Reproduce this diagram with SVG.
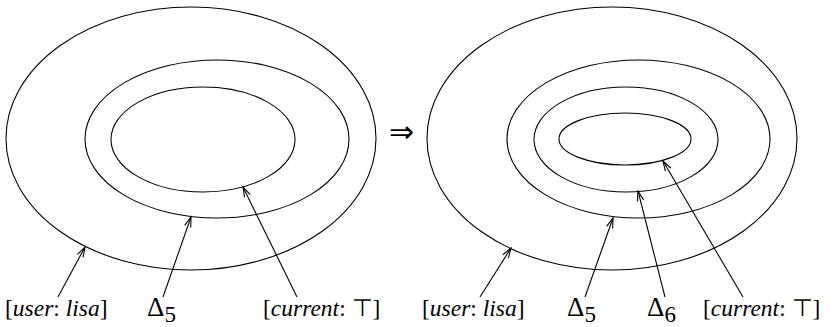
<svg xmlns="http://www.w3.org/2000/svg" width="835" height="327" viewBox="0 0 835 327">
<defs>
<marker id="ah" markerWidth="14" markerHeight="10" viewBox="-12 -5 14 10" refX="0" refY="0" orient="auto" markerUnits="userSpaceOnUse">
<path d="M-10,-3.2 L0,0 L-10,3.2" fill="none" stroke="#000" stroke-width="1.1"/>
</marker>
</defs>
<rect width="835" height="327" fill="#fff"/>
<g fill="none" stroke="#000" stroke-width="1.1">
<g id="left-user"><ellipse cx="191" cy="138.5" rx="185" ry="131.5"/></g>
<g id="left-delta5"><ellipse cx="217" cy="139" rx="132" ry="79"/></g>
<g id="left-current"><ellipse cx="203" cy="139.5" rx="92" ry="52.5"/></g>
<g id="right-user"><ellipse cx="612" cy="138.5" rx="185" ry="131.5"/></g>
<g id="right-delta5"><ellipse cx="638.5" cy="139" rx="131.5" ry="79"/></g>
<g id="right-delta6"><ellipse cx="626" cy="139.5" rx="92" ry="52.5"/></g>
<g id="right-current"><ellipse cx="625" cy="139" rx="66" ry="26"/></g>
</g>
<g id="connectors" fill="none" stroke="#000" stroke-width="1.1">
<line x1="58" y1="297" x2="85" y2="247" marker-end="url(#ah)"/>
<line x1="163" y1="297" x2="191" y2="217" marker-end="url(#ah)"/>
<line x1="297" y1="297" x2="243" y2="187" marker-end="url(#ah)"/>
<line x1="480" y1="297" x2="511" y2="248" marker-end="url(#ah)"/>
<line x1="585" y1="297" x2="613" y2="218" marker-end="url(#ah)"/>
<line x1="665" y1="297" x2="638" y2="191" marker-end="url(#ah)"/>
<line x1="743" y1="297" x2="663" y2="161" marker-end="url(#ah)"/>
</g>
<g id="labels" fill="#000">
<text x="389" y="142" font-family="'Liberation Serif', serif" font-size="30">⇒</text>
<text x="5" y="316" font-family="'Liberation Serif', serif" font-size="23.5">[<tspan font-style="italic">user</tspan>: <tspan font-style="italic">lisa</tspan>]</text>
<text x="147" y="316" font-family="'Liberation Serif', serif" font-size="27">Δ<tspan font-size="23" dy="6">5</tspan></text>
<text x="263" y="316" font-family="'Liberation Serif', serif" font-size="23.5">[<tspan font-style="italic">current</tspan>: ⊤]</text>
<text x="422" y="316" font-family="'Liberation Serif', serif" font-size="23.5">[<tspan font-style="italic">user</tspan>: <tspan font-style="italic">lisa</tspan>]</text>
<text x="567" y="316" font-family="'Liberation Serif', serif" font-size="27">Δ<tspan font-size="23" dy="6">5</tspan></text>
<text x="647" y="316" font-family="'Liberation Serif', serif" font-size="27">Δ<tspan font-size="23" dy="6">6</tspan></text>
<text x="703" y="316" font-family="'Liberation Serif', serif" font-size="23.5">[<tspan font-style="italic">current</tspan>: ⊤]</text>
</g>
</svg>
